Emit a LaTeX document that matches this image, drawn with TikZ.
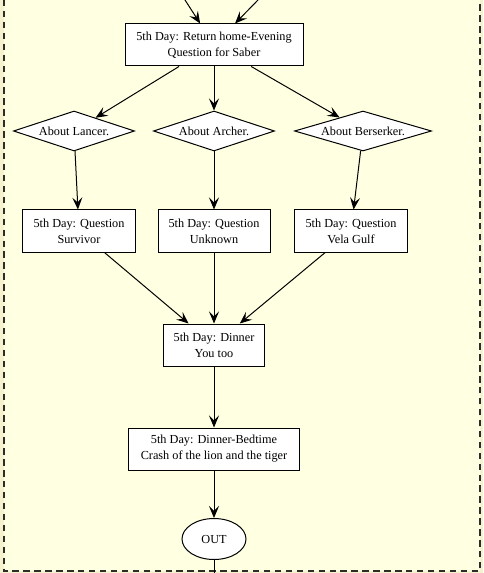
\documentclass[tikz,border=0pt]{standalone}
\usepackage{fontspec}
\setmainfont{Liberation Serif}
\usetikzlibrary{shapes.geometric,arrows.meta}
\definecolor{clusterbg}{RGB}{255,255,225}
\definecolor{outerbg}{RGB}{246,242,205}
\definecolor{borderc}{RGB}{45,45,40}
\tikzset{
  every node/.style={font=\fontsize{9.2}{12}\selectfont},
  box/.style={draw=black, line width=0.75pt, fill=white, align=center, inner sep=2pt, minimum height=31.5pt},
  cond/.style={draw=black, line width=0.75pt, fill=white, shape=diamond, aspect=3.4, inner sep=0pt, minimum height=30pt},
  term/.style={draw=black, line width=0.75pt, fill=white, shape=ellipse, minimum width=48pt, minimum height=30.75pt, inner sep=0pt},
  flow/.style={draw=black, line width=0.75pt, -{Stealth[length=9pt,width=7.5pt,inset=3.6pt]}},
  plain/.style={draw=black, line width=0.75pt}
}
\begin{document}
\begin{tikzpicture}[x=0.75pt,y=-0.75pt]
\useasboundingbox (0,0) rectangle (483,573);
\fill[outerbg] (0,0) rectangle (483,573);
\fill[clusterbg] (4,0) rectangle (480,571);
\draw[borderc, line width=1.2pt, dash pattern=on 4.8pt off 3.4pt] (4,0) -- (4,571) -- (480,571) -- (480,0);

\node[box, minimum width=133.5pt] (home) at (214,45) {5th Day: Return home-Evening\\Question for Saber};
\coordinate (inA) at (185,0);
\coordinate (inB) at (258,0);

\node[cond, minimum width=90.75pt] (lancer) at (74,131) {About Lancer.};
\node[cond, minimum width=90.75pt] (archer) at (214,131) {About Archer.};
\node[cond, minimum width=102.75pt] (berserker) at (363,131) {About Berserker.};

\node[box, minimum width=84.75pt] (survivor) at (79,231) {5th Day: Question\\Survivor};
\node[box, minimum width=84pt] (unknown) at (214,231) {5th Day: Question\\Unknown};
\node[box, minimum width=84.75pt] (vela) at (351,231) {5th Day: Question\\Vela Gulf};

\node[box, minimum width=75.75pt] (dinner) at (214,345) {5th Day: Dinner\\You too};
\node[box, minimum width=128.25pt] (bedtime) at (214,449) {5th Day: Dinner-Bedtime\\Crash of the lion and the tiger};
\node[term] (out) at (214,539) {OUT};
\coordinate (outEnd) at (214,573);

\draw[flow] (inA) -- (home);
\draw[flow] (inB) -- (home);
\draw[flow] (home) -- (lancer);
\draw[flow] (home) -- (archer);
\draw[flow] (home) -- (berserker);
\draw[flow] (lancer) -- (survivor);
\draw[flow] (archer) -- (unknown);
\draw[flow] (berserker) -- (vela);
\draw[flow] (survivor) -- (dinner);
\draw[flow] (unknown) -- (dinner);
\draw[flow] (vela) -- (dinner);
\draw[flow] (dinner) -- (bedtime);
\draw[flow] (bedtime) -- (out);
\draw[plain] (out) -- (outEnd);
\end{tikzpicture}
\end{document}
